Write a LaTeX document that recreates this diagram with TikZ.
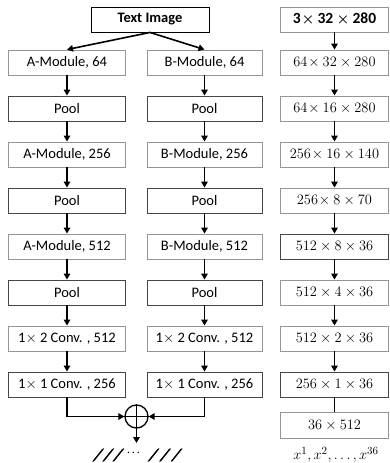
\documentclass[tikz,border=0pt]{standalone}
\usepackage{amsmath}
\usepackage{fontspec}
\setmainfont{Carlito}
\newfontfamily\slashfont[FakeSlant=0.35,FakeBold=2.5]{Carlito}
\usetikzlibrary{arrows.meta}
\definecolor{lightedge}{HTML}{959595}
\definecolor{darkedge}{HTML}{464646}
\begin{document}
\begin{tikzpicture}[x=1pt,y=-1pt,
  every node/.style={font=\fontsize{14.5}{17}\selectfont},
  blk/.style={draw=lightedge, line width=0.9pt, minimum height=25pt, inner sep=0pt, fill=white},
  dblk/.style={blk, draw=darkedge},
  lcol/.style={minimum width=117pt},
  mcol/.style={minimum width=115pt},
  rcol/.style={minimum width=108pt, font=\fontsize{15.5}{18}\selectfont},
  arr/.style={-{Triangle[width=6.5pt,length=6pt]}, line width=1.6pt},
  link/.style={line width=1.6pt}
]
\useasboundingbox (0,0) rectangle (390,463);

% input
\node[blk, draw=black, minimum width=118pt, font=\fontsize{14.5}{17}\selectfont\bfseries] (img) at (150,19.5) {Text Image};

% branch A
\node[blk, lcol]  (a1) at (67,62.5)  {A-Module, 64};
\node[dblk, lcol] (a2) at (67,108.5) {Pool};
\node[blk, lcol]  (a3) at (67,154.5) {A-Module, 256};
\node[dblk, lcol] (a4) at (67,200.5) {Pool};
\node[blk, lcol]  (a5) at (67,246.5) {A-Module, 512};
\node[dblk, lcol] (a6) at (67,292.5) {Pool};
\node[blk, lcol]  (a7) at (67,338.5) {1$\times$ 2 Conv. , 512};
\node[dblk, lcol] (a8) at (67,384.5) {1$\times$ 1 Conv. , 256};

% branch B
\node[blk, mcol]  (b1) at (204.5,62.5)  {B-Module, 64};
\node[dblk, mcol] (b2) at (204.5,108.5) {Pool};
\node[blk, mcol]  (b3) at (204.5,154.5) {B-Module, 256};
\node[dblk, mcol] (b4) at (204.5,200.5) {Pool};
\node[blk, mcol]  (b5) at (204.5,246.5) {B-Module, 512};
\node[dblk, mcol] (b6) at (204.5,292.5) {Pool};
\node[blk, mcol]  (b7) at (204.5,338.5) {1$\times$ 2 Conv. , 512};
\node[dblk, mcol] (b8) at (204.5,384.5) {1$\times$ 1 Conv. , 256};

% tensor sizes
\node[blk, rcol]  (r0) at (334.5,19.5)  {$\mathbf{3}\!\boldsymbol{\times}\mathbf{32}\boldsymbol{\times}\mathbf{280}$};
\node[blk, rcol]  (r1) at (334.5,62.5)  {$64\!\times 32\times 280$};
\node[blk, rcol]  (r2) at (334.5,108.5) {$64\!\times 16\times 280$};
\node[blk, rcol]  (r3) at (334.5,154.5) {$256\!\times 16\times 140$};
\node[blk, rcol]  (r4) at (334.5,200.5) {$256\!\times 8\times 70$};
\node[dblk, rcol] (r5) at (334.5,246.5) {$512\times 8\times 36$};
\node[blk, rcol]  (r6) at (334.5,292.5) {$512\times 4\times 36$};
\node[blk, rcol]  (r7) at (334.5,338.5) {$512\times 2\times 36$};
\node[dblk, rcol] (r8) at (334.5,384.5) {$256\times 1\times 36$};
\node[blk, rcol, minimum height=26pt] (r9) at (334.5,425) {$36\times 512$};
\node[font=\fontsize{15}{17}\selectfont] (xs) at (336,455) {$x^1,x^2,\dots,x^{36}$};

% split from the input
\draw[arr] (img.south) -- (a1.north);
\draw[arr] (img.south) -- (b1.north);

% vertical flows
\foreach \i/\j in {1/2,2/3,3/4,4/5,5/6,6/7,7/8} {
  \draw[arr] (a\i.south) -- (a\j.north);
  \draw[arr] (b\i.south) -- (b\j.north);
}
\foreach \i/\j in {0/1,1/2,2/3,3/4,4/5,5/6,6/7,7/8} {
  \draw[arr] (r\i.south) -- (r\j.north);
}
\draw[link] (r8.south) -- (r9.north);

% element-wise sum
\node[draw, circle, minimum size=23pt, inner sep=0pt, line width=1.3pt] (sum) at (136.5,416.5) {};
\draw[line width=1.3pt] (sum.north) -- (sum.south) (sum.west) -- (sum.east);
\draw[arr] (a8.south) |- (sum.west);
\draw[arr] (b8.south) |- (sum.east);
\coordinate (out) at (136.5,443);
\draw[arr] (sum.south) -- (out);
\node[inner sep=1pt] (seq) at (137,455) {\slashfont\fontsize{17}{17}\selectfont /\kern3.5pt/\kern3.5pt/\kern7pt\raisebox{4pt}{\fontsize{14}{14}\selectfont\bfseries\upshape$\cdot\!\cdot\!\cdot$}\kern8pt/\kern5pt/\kern5pt/\kern3pt};
\end{tikzpicture}
\end{document}
